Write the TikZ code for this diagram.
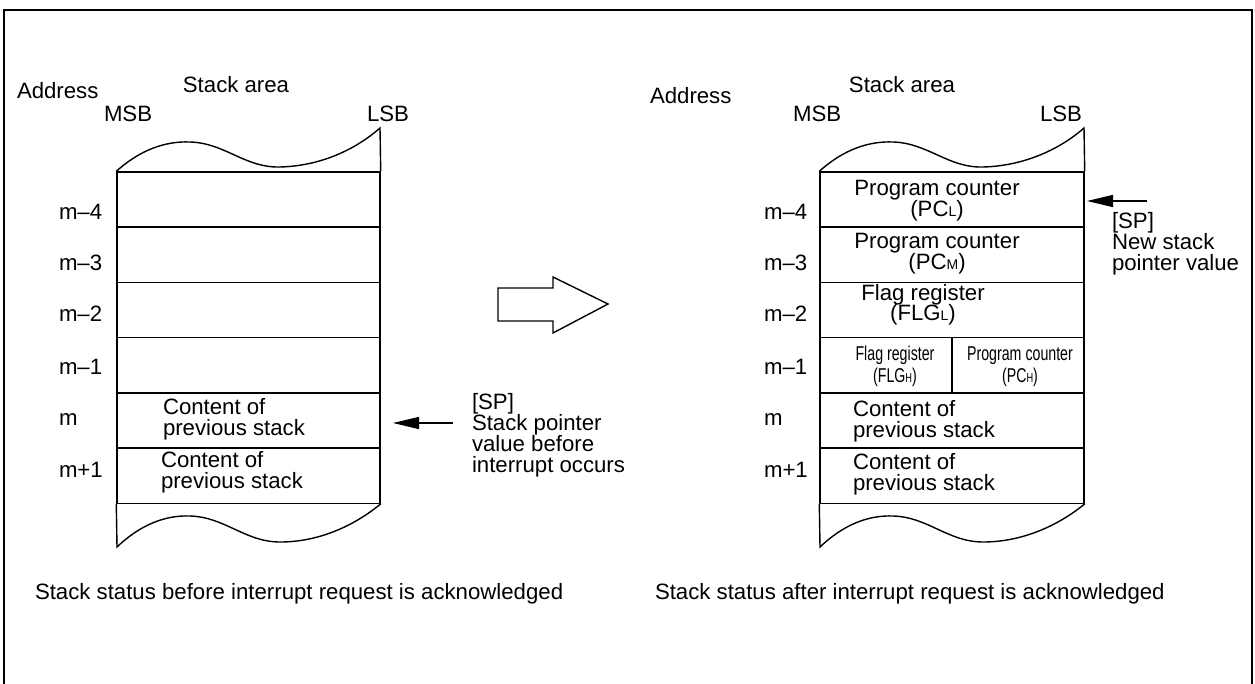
\documentclass[tikz,border=0pt]{standalone}
\usepackage{fontspec}
\setmainfont{Liberation Sans}
\usepackage{graphicx}
\usetikzlibrary{arrows.meta}
\newcommand\sub[1]{{\fontsize{14}{14}\selectfont #1}}
\newcommand\ssub[1]{{\fontsize{13}{13}\selectfont #1}}
\newcommand\cnd[1]{\scalebox{0.71}[1]{#1}}
\begin{document}
\begin{tikzpicture}[x=1pt,y=-1pt,
  txt/.style={font=\fontsize{22.2}{22}\selectfont, inner sep=0pt, outer sep=0pt},
  stxt/.style={font=\fontsize{20}{20}\selectfont, inner sep=0pt, outer sep=0pt},
  cell/.style={draw, line width=1.4pt, minimum width=263pt, minimum height=55.2pt, inner sep=0pt},
  rcell/.style={cell, minimum width=264pt},
  wave/.style={line width=1.4pt},
  sparrow/.style={line width=1.4pt, -{Triangle[length=26pt,width=12pt]}},
  frame/.style={line width=2pt},
  blockarrow/.style={line width=1.4pt, line join=miter}]
\useasboundingbox (0,0) rectangle (1255,684);
% frame
\draw[frame] (3.5,690) -- (3.5,10) -- (1252,10) -- (1252,690);

% ---------- left stack ----------
\foreach \i/\n in {0/L1,1/L2,2/L3,3/L4,4/L5,5/L6}
  \node[cell] (\n) at (248.5,{199.6+55.2*\i}) {};
\draw[wave] (L1.north west) .. controls (140,150) and (165,141) .. (190,142)
  .. controls (225,143) and (245,168) .. (280,167)
  .. controls (320,166) and (355,150) .. (380,128) -- (L1.north east);
\draw[wave] (L6.south west) -- (117,547) .. controls (140,525) and (165,515) .. (190,516)
  .. controls (225,517) and (245,542) .. (280,542)
  .. controls (320,542) and (355,525) .. (L6.south east);

\node[txt, anchor=base west] (addrL) at (17,99) {Address};
\node[txt, anchor=base] (areaL) at (236,93) {Stack area};
\node[txt, anchor=base west] (msbL) at (104,122) {MSB};
\node[txt, anchor=base west] (lsbL) at (367,122) {LSB};

\node[txt, anchor=base west] (aL1) at (59,220) {m–4};
\node[txt, anchor=base west] (aL2) at (59,271) {m–3};
\node[txt, anchor=base west] (aL3) at (59,322) {m–2};
\node[txt, anchor=base west] (aL4) at (59,374) {m–1};
\node[txt, anchor=base west] (aL5) at (59,425) {m};
\node[txt, anchor=base west] (aL6) at (59,477) {m+1};

\node[txt, anchor=base west] (cL5a) at (163,414) {Content of};
\node[txt, anchor=base west] (cL5b) at (163,435) {previous stack};
\node[txt, anchor=base west] (cL6a) at (161,467) {Content of};
\node[txt, anchor=base west] (cL6b) at (161,488) {previous stack};

\coordinate (spLtail) at (453,423);
\coordinate (spLtip) at (393,423);
\draw[sparrow] (spLtail) -- (spLtip);
\node[txt, anchor=base west] (spL1) at (472,409) {[SP]};
\node[txt, anchor=base west] (spL2) at (472,430) {Stack pointer};
\node[txt, anchor=base west] (spL3) at (472,451) {value before};
\node[txt, anchor=base west] (spL4) at (472,472) {interrupt occurs};

\node[txt, anchor=base west] (capL) at (35,599) {Stack status before interrupt request is acknowledged};

% ---------- block arrow ----------
\draw[blockarrow] (498,288) -- (553,288) -- (553,277) -- (608,304) -- (553,333) -- (553,321) -- (498,321) -- cycle;

% ---------- right stack ----------
\foreach \i/\n in {0/R1,1/R2,2/R3,3/R4,4/R5,5/R6}
  \node[rcell] (\n) at (952,{199.6+55.2*\i}) {};
\draw[wave] (R1.north west) .. controls (843,150) and (868,141) .. (893,142)
  .. controls (928,143) and (948,168) .. (983,167)
  .. controls (1023,166) and (1059,150) .. (1084,128) -- (R1.north east);
\draw[wave] (R6.south west) -- (820,547) .. controls (843,525) and (868,515) .. (893,516)
  .. controls (928,517) and (948,542) .. (983,542)
  .. controls (1023,542) and (1059,525) .. (R6.south east);
\draw[wave] (R4.north) -- (R4.south);

\node[txt, anchor=base west] (addrR) at (650,104) {Address};
\node[txt, anchor=base] (areaR) at (902,93) {Stack area};
\node[txt, anchor=base west] (msbR) at (793,122) {MSB};
\node[txt, anchor=base west] (lsbR) at (1040,122) {LSB};

\node[txt, anchor=base west] (aR1) at (764,220) {m–4};
\node[txt, anchor=base west] (aR2) at (764,271) {m–3};
\node[txt, anchor=base west] (aR3) at (764,322) {m–2};
\node[txt, anchor=base west] (aR4) at (764,374) {m–1};
\node[txt, anchor=base west] (aR5) at (764,425) {m};
\node[txt, anchor=base west] (aR6) at (764,477) {m+1};

\node[txt, anchor=base] (tR1a) at (937,196) {Program counter};
\node[txt, anchor=base] (tR1b) at (937,217) {(PC\sub{L})};
\node[txt, anchor=base] (tR2a) at (937,249) {Program counter};
\node[txt, anchor=base] (tR2b) at (937,270) {(PC\sub{M})};
\node[txt, anchor=base] (tR3a) at (923,301) {Flag register};
\node[txt, anchor=base] (tR3b) at (923,321) {(FLG\sub{L})};
\node[stxt, anchor=base] (tR4a) at (895,360) {\cnd{Flag register}};
\node[stxt, anchor=base] (tR4b) at (895,382) {\cnd{(FLG\ssub{H})}};
\node[stxt, anchor=base] (tR4c) at (1020,360) {\cnd{Program counter}};
\node[stxt, anchor=base] (tR4d) at (1020,382) {\cnd{(PC\ssub{H})}};
\node[txt, anchor=base west] (cR5a) at (853,416) {Content of};
\node[txt, anchor=base west] (cR5b) at (853,437) {previous stack};
\node[txt, anchor=base west] (cR6a) at (853,469) {Content of};
\node[txt, anchor=base west] (cR6b) at (853,490) {previous stack};

\coordinate (spRtail) at (1147,201);
\coordinate (spRtip) at (1087,201);
\draw[sparrow] (spRtail) -- (spRtip);
\node[txt, anchor=base west] (spR1) at (1112,229) {[SP]};
\node[txt, anchor=base west] (spR2) at (1112,250) {New stack};
\node[txt, anchor=base west] (spR3) at (1112,271) {pointer value};

\node[txt, anchor=base west] (capR) at (655,599) {Stack status after interrupt request is acknowledged};
\end{tikzpicture}
\end{document}
